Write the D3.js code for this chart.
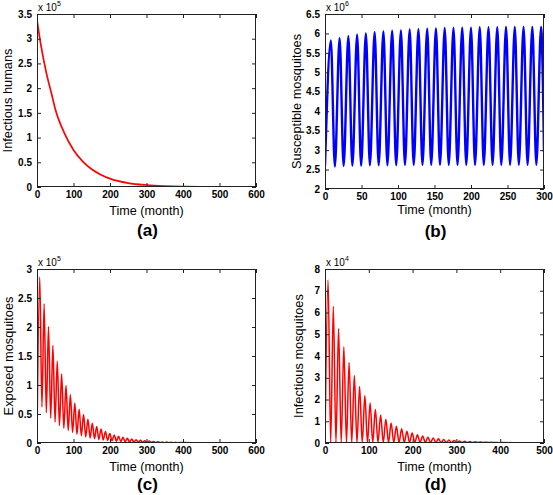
<!DOCTYPE html>
<html><head><meta charset="utf-8">
<script src="https://cdn.jsdelivr.net/npm/d3@7"></script>
<style>
html,body{margin:0;padding:0;background:#fff;}
svg{display:block;}
text{font-family:"Liberation Sans",Arial,sans-serif;fill:#000;}
</style></head>
<body>
<svg id="chart" width="553" height="495"></svg>
<script>
// ---------- DATA ----------
// (a) Infectious humans (x 10^5)
const aTime = [0, 10, 25, 40, 50, 75, 100, 125, 150, 175, 200, 250, 300, 350, 400, 450, 500, 550, 600];
const aInfHumans = [3.38, 2.9, 2.33, 1.88, 1.58, 1.09, 0.75, 0.52, 0.36, 0.25, 0.17, 0.08, 0.04, 0.02, 0.01, 0.005, 0.003, 0.002, 0.001];

// (b) Susceptible mosquitoes (x 10^6): peaks and troughs
const bPeakTime = [8, 20, 32, 44, 56, 68, 80, 92, 104, 116, 128, 140, 152, 164, 176, 188, 200, 212, 224, 236, 248, 260, 272, 284, 296];
const bPeakVal = [5.82, 5.88, 5.93, 5.97, 6.00, 6.03, 6.05, 6.07, 6.08, 6.10, 6.11, 6.12, 6.13, 6.14, 6.14, 6.15, 6.15, 6.16, 6.16, 6.16, 6.17, 6.17, 6.17, 6.17, 6.17];
const bTroughTime = [0, 13.5, 25.5, 37.5, 49.5, 61.5, 73.5, 85.5, 97.5, 109.5, 121.5, 133.5, 145.5, 157.5, 169.5, 181.5, 193.5, 205.5, 217.5, 229.5, 241.5, 253.5, 265.5, 277.5, 289.5, 300];
const bTroughVal = [2.6, 2.58, 2.59, 2.6, 2.6, 2.61, 2.61, 2.61, 2.61, 2.62, 2.62, 2.62, 2.62, 2.62, 2.62, 2.62, 2.62, 2.62, 2.62, 2.62, 2.62, 2.62, 2.62, 2.62, 2.62, 2.95];

// (c) Exposed mosquitoes (x 10^5): peaks and troughs
const cPeakTime = [7.5, 19.5, 31.5, 43.5, 55.5, 67.5, 79.5, 91.5, 103.5, 115.5, 127.5, 139.5, 151.5, 163.5, 175.5, 187.5, 199.5, 211.5, 223.5, 235.5, 247.5, 259.5, 271.5, 283.5, 295.5, 307.5, 319.5, 331.5, 343.5, 355.5, 367.5, 379.5, 391.5];
const cPeakVal = [2.86, 2.40, 2.01, 1.68, 1.41, 1.19, 0.99, 0.83, 0.69, 0.58, 0.49, 0.41, 0.34, 0.285, 0.24, 0.20, 0.165, 0.14, 0.115, 0.097, 0.081, 0.068, 0.057, 0.048, 0.040, 0.033, 0.028, 0.023, 0.019, 0.016, 0.013, 0.011, 0.009];
const cTroughTime = [0, 13.5, 25.5, 37.5, 49.5, 61.5, 73.5, 85.5, 97.5, 109.5, 121.5, 133.5, 145.5, 157.5, 169.5, 181.5, 193.5, 205.5, 217.5, 229.5, 241.5, 253.5, 265.5, 277.5, 289.5, 301.5, 313.5, 325.5, 337.5, 349.5, 361.5, 373.5, 385.5, 420, 500, 600];
const cTroughVal = [0, 0.62, 0.52, 0.43, 0.36, 0.30, 0.255, 0.215, 0.18, 0.15, 0.125, 0.105, 0.088, 0.074, 0.062, 0.052, 0.044, 0.037, 0.031, 0.026, 0.022, 0.018, 0.015, 0.013, 0.011, 0.009, 0.008, 0.006, 0.005, 0.004, 0.004, 0.003, 0.003, 0.004, 0.002, 0.001];

// (d) Infectious mosquitoes (x 10^4): peaks and troughs
const dPeakTime = [7, 19, 31, 43, 55, 67, 79, 91, 103, 115, 127, 139, 151, 163, 175, 187, 199, 211, 223, 235, 247, 259, 271, 283, 295, 307, 319, 331, 343, 355, 367, 379, 391, 403];
const dPeakVal = [7.5, 6.28, 5.27, 4.42, 3.7, 3.1, 2.6, 2.18, 1.84, 1.54, 1.29, 1.09, 0.92, 0.77, 0.65, 0.54, 0.46, 0.38, 0.32, 0.27, 0.23, 0.19, 0.16, 0.135, 0.113, 0.095, 0.08, 0.067, 0.056, 0.047, 0.04, 0.033, 0.028, 0.023];
const dTroughTime = [0, 13, 25, 37, 49, 61, 73, 85, 97, 109, 121, 133, 145, 157, 169, 181, 193, 205, 217, 229, 241, 253, 265, 277, 289, 301, 313, 325, 337, 349, 361, 373, 385, 397, 450, 500];
const dTroughVal = [0, 0.02, 0.02, 0.02, 0.02, 0.02, 0.02, 0.02, 0.02, 0.02, 0.02, 0.02, 0.02, 0.02, 0.02, 0.02, 0.02, 0.02, 0.02, 0.02, 0.02, 0.02, 0.02, 0.02, 0.02, 0.02, 0.02, 0.02, 0.02, 0.02, 0.02, 0.02, 0.02, 0.01, 0.005, 0.003];

// tick labels / axis definitions
const aXTicks = [0, 100, 200, 300, 400, 500, 600];
const aYTicks = [0, 0.5, 1, 1.5, 2, 2.5, 3, 3.5];
const bXTicks = [0, 50, 100, 150, 200, 250, 300];
const bYTicks = [2, 2.5, 3, 3.5, 4, 4.5, 5, 5.5, 6, 6.5];
const cXTicks = [0, 100, 200, 300, 400, 500, 600];
const cYTicks = [0, 0.5, 1, 1.5, 2, 2.5, 3];
const dXTicks = [0, 100, 200, 300, 400, 500];
const dYTicks = [0, 1, 2, 3, 4, 5, 6, 7, 8];

const yLabels = ["Infectious humans", "Susceptible mosquitoes", "Exposed mosquitoes", "Infectious mosquitoes"];
const xLabel = "Time (month)";
const panelTags = ["(a)", "(b)", "(c)", "(d)"];
const exponents = ["5", "6", "5", "4"];

// ---------- DRAW ----------
function merge(t1, v1, t2, v2) {
  const pts = t1.map((t, i) => [t, v1[i]]).concat(t2.map((t, i) => [t, v2[i]]));
  pts.sort((p, q) => p[0] - q[0]);
  return pts;
}

const panels = [
  {box: [37, 256, 14, 187], xd: [0, 600], yd: [0, 3.5], xt: aXTicks, yt: aYTicks,
   data: aTime.map((t, i) => [t, aInfHumans[i]]), color: "#ff0000", lw: 1.7,
   ylabX: 12, xlabY: 215, tagY: 236},
  {box: [325, 544, 14, 189], xd: [0, 300], yd: [2, 6.5], xt: bXTicks, yt: bYTicks,
   data: merge(bPeakTime, bPeakVal, bTroughTime, bTroughVal), color: "#0000ff", lw: 2.4,
   ylabX: 301, xlabY: 214, tagY: 237},
  {box: [37, 256, 269, 443], xd: [0, 600], yd: [0, 3], xt: cXTicks, yt: cYTicks,
   data: merge(cPeakTime, cPeakVal, cTroughTime, cTroughVal), color: "#ff0000", lw: 1.5,
   ylabX: 13, xlabY: 471, tagY: 490},
  {box: [325, 544, 269, 443], xd: [0, 500], yd: [0, 8], xt: dXTicks, yt: dYTicks,
   data: merge(dPeakTime, dPeakVal, dTroughTime, dTroughVal), color: "#ff0000", lw: 1.5,
   ylabX: 303, xlabY: 471, tagY: 490}
];

const svg = d3.select("#chart");

panels.forEach((p, idx) => {
  const [L, R, T, B] = p.box;
  const x = d3.scaleLinear().domain(p.xd).range([L, R]);
  const y = d3.scaleLinear().domain(p.yd).range([B, T]);
  const g = svg.append("g");

  const clipId = "clip" + idx;
  g.append("clipPath").attr("id", clipId).append("rect")
    .attr("x", L).attr("y", T - 2).attr("width", R - L).attr("height", B - T + 2);

  // line
  g.append("path")
    .datum(p.data)
    .attr("clip-path", `url(#${clipId})`)
    .attr("fill", "none")
    .attr("stroke", p.color)
    .attr("stroke-width", p.lw)
    .attr("stroke-linejoin", "round")
    .attr("d", d3.line().x(d => x(d[0])).y(d => y(d[1])).curve(d3.curveMonotoneX));

  const fmt = d => String(d);
  const styleAxis = sel => {
    sel.select(".domain").remove();
    sel.selectAll(".tick line").attr("stroke", "#222");
    sel.selectAll("text").style("font-family", '"Liberation Sans", Arial, sans-serif')
      .style("font-size", "10px").style("font-weight", "bold").attr("fill", "#000");
  };
  g.append("g").attr("transform", `translate(0,${B})`)
    .call(d3.axisBottom(x).tickValues(p.xt).tickFormat(fmt).tickSize(-4).tickPadding(4)).call(styleAxis);
  g.append("g").attr("transform", `translate(0,${T})`)
    .call(d3.axisTop(x).tickValues(p.xt).tickFormat("").tickSize(-4)).call(styleAxis);
  g.append("g").attr("transform", `translate(${L},0)`)
    .call(d3.axisLeft(y).tickValues(p.yt).tickFormat(fmt).tickSize(-4).tickPadding(5)).call(styleAxis);
  g.append("g").attr("transform", `translate(${R},0)`)
    .call(d3.axisRight(y).tickValues(p.yt).tickFormat("").tickSize(-4)).call(styleAxis);

  // box
  g.append("rect").attr("x", L + 0.5).attr("y", T + 0.5).attr("width", R - L - 1).attr("height", B - T - 1)
    .attr("fill", "none").attr("stroke", "#222").attr("stroke-width", 1);

  // exponent label
  const ex = g.append("text").attr("x", L + 1).attr("y", T - 3).style("font-size", "10px");
  ex.append("tspan").text("x 10");
  ex.append("tspan").attr("dy", -5).style("font-size", "7px").text(exponents[idx]);

  // x label
  g.append("text").attr("x", (L + R) / 2).attr("y", p.xlabY).attr("text-anchor", "middle")
    .style("font-size", "12.6px").text(xLabel);
  // y label
  g.append("text").attr("transform", `translate(${p.ylabX},${(T + B) / 2}) rotate(-90)`)
    .attr("text-anchor", "middle").style("font-size", "12.8px").text(yLabels[idx]);
  // panel tag
  g.append("text").attr("x", (L + R) / 2 + 1).attr("y", p.tagY).attr("text-anchor", "middle")
    .style("font-size", "17px").style("font-weight", "bold").text(panelTags[idx]);
});
</script>
</body></html>
